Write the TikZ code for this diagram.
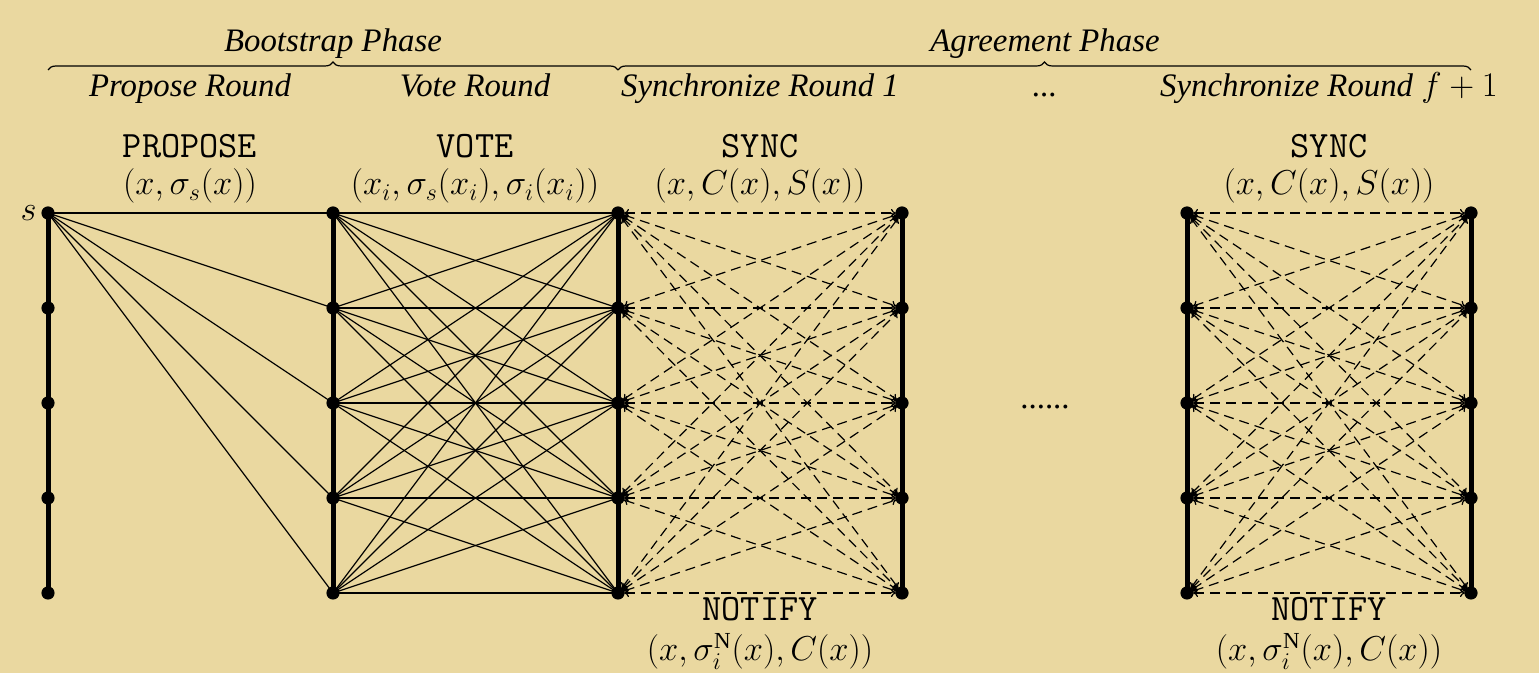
\documentclass[tikz,border=0pt]{standalone}
\usepackage{fontspec}
\setmainfont{Liberation Serif}
\usetikzlibrary{decorations.pathreplacing,arrows.meta}
\definecolor{bg}{HTML}{EAD8A0}
\begin{document}
\begin{tikzpicture}[x=0.5pt,y=-0.5pt,
 dot/.style={circle,fill=black,inner sep=0pt,minimum size=6.6pt},
 lab/.style={font=\fontsize{16.4}{19}\selectfont\itshape,inner sep=0pt,anchor=base},
 msg/.style={font=\fontsize{16.4}{19}\selectfont,inner sep=0pt,anchor=base},
 tt/.style={font=\fontsize{18.6}{20}\selectfont\ttfamily,inner sep=0pt,anchor=base},
 solidln/.style={line width=0.6pt},
 dashln/.style={line width=0.6pt,dash pattern=on 5pt off 3pt,{To[length=2.5pt,width=4pt]}-{To[length=2.5pt,width=4pt]},shorten <=3pt,shorten >=3pt},
 rail/.style={line width=2.5pt},
 brc/.style={decorate,decoration={brace,amplitude=4pt},line width=0.6pt}]
\fill[bg] (0,0) rectangle (1539,673);
\useasboundingbox (0,0) rectangle (1539,673);
% columns of nodes
\foreach \c/\x in {a/48,b/333,c/618,d/902,e/1187,g/1471}{
  \foreach \i/\y in {1/213,2/308,3/403,4/498,5/593}{
    \coordinate (\c\i) at (\x,\y);
  }
}
% edges
\foreach \j in {1,...,5}{\draw[solidln] (a1) -- (b\j);}
\foreach \i in {1,...,5}{\foreach \j in {1,...,5}{\draw[solidln] (b\i) -- (c\j);}}
\foreach \i in {1,...,5}{\foreach \j in {1,...,5}{\draw[dashln] (c\i) -- (d\j);}}
\foreach \i in {1,...,5}{\foreach \j in {1,...,5}{\draw[dashln] (e\i) -- (g\j);}}
% rails
\foreach \c in {a,b,c,d,e,g}{\draw[rail] (\c1) -- (\c5);}
\foreach \c in {a,b,c,d,e,g}{\foreach \i in {1,...,5}{\node[dot] (n\c\i) at (\c\i) {};}}
\node[msg,anchor=base east] (slab) at (37,221) {$s$};
% message labels
\node[tt] (pt) at (190,158) {PROPOSE};
\node[msg] (pf) at (190,195) {$(x,\sigma_s(x))$};
\node[tt] (vt) at (475,158) {VOTE};
\node[msg] (vf) at (475,195) {$(x_i,\sigma_s(x_i),\sigma_i(x_i))$};
\node[tt] (st1) at (760,158) {SYNC};
\node[msg] (sf1) at (760,195) {$(x,C(x),S(x))$};
\node[tt] (st2) at (1329,158) {SYNC};
\node[msg] (sf2) at (1329,195) {$(x,C(x),S(x))$};
\node[tt] (nt1) at (760,621) {NOTIFY};
\node[msg] (nf1) at (760,661) {$(x,\sigma_i^{\mathrm{N}}(x),C(x))$};
\node[tt] (nt2) at (1329,621) {NOTIFY};
\node[msg] (nf2) at (1329,661) {$(x,\sigma_i^{\mathrm{N}}(x),C(x))$};
\node[msg] (dots) at (1045,409) {......};
% braces and phase labels
\draw[brc] (48,70) -- (618,70);
\draw[brc] (618,70) -- (1471,70);
\node[lab] (bp) at (333,52) {Bootstrap Phase};
\node[lab] (ap) at (1045,52) {Agreement Phase};
\node[lab] (pr) at (190,97) {Propose Round};
\node[lab] (vr) at (475,97) {Vote Round};
\node[lab] (sr1) at (760,97) {Synchronize Round 1};
\node[lab] (srd) at (1045,97) {...};
\node[lab] (sr2) at (1329,97) {Synchronize Round $f+1$};
\end{tikzpicture}
\end{document}
